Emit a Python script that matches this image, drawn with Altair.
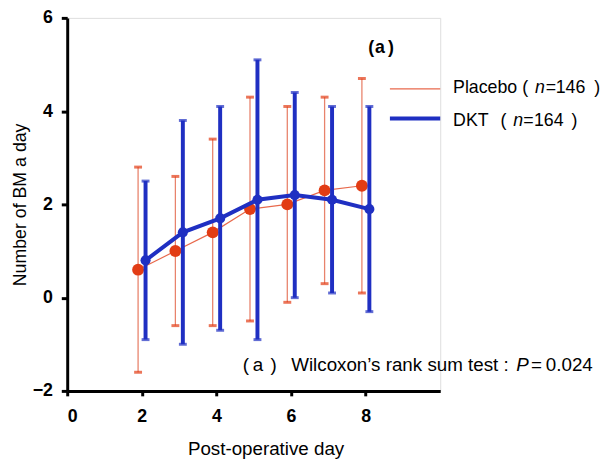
import altair as alt
import pandas as pd

days = [2, 3, 4, 5, 6, 7, 8]
placebo_mean = [0.6, 1.0, 1.4, 1.9, 2.0, 2.3, 2.4]
placebo_upper = [2.8, 2.6, 3.4, 4.3, 4.1, 4.3, 4.7]
placebo_lower = [-1.6, -0.6, -0.6, -0.5, -0.1, 0.3, 0.1]
dkt_mean = [0.8, 1.4, 1.7, 2.1, 2.2, 2.1, 1.9]
dkt_upper = [2.5, 3.8, 4.1, 5.1, 4.4, 4.1, 4.1]
dkt_lower = [-0.9, -1.0, -0.7, -0.9, 0.0, 0.1, -0.3]

x_ticks = [0, 2, 4, 6, 8]
y_ticks = [-2, 0, 2, 4, 6]

FONT = "Liberation Sans"
RED = "#e23c14"
RED_BAR = "#e8836c"
RED_LINE = "#e8694c"
BLUE = "#1f2fc2"

pl = pd.DataFrame({"day": days, "mean": placebo_mean, "lo": placebo_lower, "hi": placebo_upper})
pl["xpos"] = pl["day"] - 0.1
dk = pd.DataFrame({"day": days, "mean": dkt_mean, "lo": dkt_lower, "hi": dkt_upper})
dk["xpos"] = dk["day"] + 0.1

xs = alt.Scale(domain=[0, 10], nice=False, zero=False)
ys = alt.Scale(domain=[-2, 6], nice=False, zero=False)

X = alt.X("xpos:Q", scale=xs, axis=alt.Axis(
    values=x_ticks, title="Post-operative day", grid=False, domainColor="black",
    domainWidth=3, tickColor="black", tickWidth=3, tickSize=5, labelFontSize=18,
    labelFontWeight="bold", labelFont=FONT, labelColor="black", labelPadding=12,
    titleFont=FONT, titleFontSize=19, titleFontWeight="normal", titleColor="black",
    titlePadding=14, titleX=201))
Y = alt.Y("mean:Q", scale=ys, axis=alt.Axis(
    values=y_ticks, title="Number of BM a day", grid=False, domainColor="black",
    domainWidth=3, tickColor="black", tickWidth=3, tickSize=6, labelFontSize=18,
    labelFontWeight="bold", labelFont=FONT, labelColor="black", labelPadding=9,
    titleFont=FONT, titleFontSize=18, titleFontWeight="normal", titleColor="black",
    titlePadding=3))


def series(df, line_w, bar_w, bar_col, cap_col, pt_col, pt_size, line_col, cap_thick):
    base = alt.Chart(df)
    bars = base.mark_rule(color=bar_col, strokeWidth=bar_w).encode(
        x=alt.X("xpos:Q", scale=xs), y=alt.Y("lo:Q", scale=ys), y2="hi:Q")
    cap_hi = base.mark_tick(color=cap_col, orient="horizontal", size=8, thickness=cap_thick).encode(
        x=alt.X("xpos:Q", scale=xs), y=alt.Y("hi:Q", scale=ys))
    cap_lo = base.mark_tick(color=cap_col, orient="horizontal", size=8, thickness=cap_thick).encode(
        x=alt.X("xpos:Q", scale=xs), y=alt.Y("lo:Q", scale=ys))
    line = base.mark_line(color=line_col, strokeWidth=line_w).encode(x=X, y=Y)
    pts = base.mark_circle(color=pt_col, opacity=1, size=pt_size).encode(
        x=alt.X("xpos:Q", scale=xs), y=alt.Y("mean:Q", scale=ys))
    return [line, bars, cap_hi, cap_lo, pts]


layers = []
layers += series(pl, 1.2, 1.3, RED_BAR, RED, RED, 145, RED_LINE, 3)
layers += series(dk, 4, 4, BLUE, BLUE, BLUE, 105, BLUE, 3)

ann_df = pd.DataFrame({"k": [0]})


def txt(s, x, y, size=18, weight="normal", style="normal", font=FONT):
    return alt.Chart(ann_df).mark_text(
        text=s, align="left", baseline="alphabetic", fontSize=size, fontWeight=weight,
        fontStyle=style, font=font, color="black").encode(x=alt.value(x), y=alt.value(y))


def leg_line(x1, x2, y, col, w):
    return alt.Chart(ann_df).mark_rule(color=col, strokeWidth=w).encode(
        x=alt.value(x1), x2=alt.value(x2), y=alt.value(y))


layers += [
    # legend
    leg_line(327, 378, 72, RED_LINE, 1.2),
    leg_line(327, 378, 102, BLUE, 4),
    txt("Placebo", 391, 76),
    txt("(", 461, 76),
    txt("n", 474, 76, style="italic"),
    txt("=", 485, 76),
    txt("146", 495, 76),
    txt(")", 534, 76),
    txt("DKT", 391, 110),
    txt("(", 439, 110),
    txt("n", 452, 110, style="italic"),
    txt("=", 462, 110),
    txt("164", 473, 110),
    txt(")", 511, 110),
    # panel label
    txt("(", 305, 36, size=18, weight="bold"),
    txt("a", 312, 36, size=18, weight="bold"),
    txt(")", 325, 36, size=18, weight="bold"),
    # test annotation
    txt("(", 178, 358, size=19),
    txt("a", 188, 358, size=19),
    txt(")", 206, 358, size=19),
    txt("Wilcoxon’s rank sum test :", 227, 358, size=19),
    txt("P", 455, 358, size=19, style="italic"),
    txt("=", 470, 358, size=19),
    txt("0.024", 485, 358, size=19),
]

chart = alt.layer(*layers).properties(
    width=378, height=378,
    autosize=alt.AutoSizeParams(type="none"),
    padding={"left": 60, "top": 7, "right": 170, "bottom": 67},
).configure_view(stroke=None).configure(background="white")

chart.save("out.html", embed_options={"renderer": "svg", "actions": False})
